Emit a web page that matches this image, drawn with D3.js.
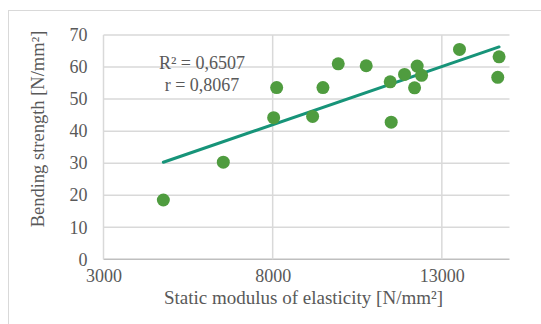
<!DOCTYPE html>
<html>
<head>
<meta charset="utf-8">
<script src="https://cdn.jsdelivr.net/npm/d3@7"></script>
<style>
  body { margin: 0; background: #fff; }
  text { font-family: "Liberation Serif", "Times New Roman", serif; fill: #595959; }
</style>
</head>
<body>
<div id="chart"></div>
<script>
// datos
const modulus = [4769, 6541, 8029, 8118, 9181, 9486, 9938, 10765, 11474, 11503, 11898, 12194, 12271, 12401, 13522, 14692, 14653];
const strength = [18.5, 30.3, 44.2, 53.6, 44.6, 53.6, 61.0, 60.4, 55.4, 42.8, 57.7, 53.5, 60.3, 57.4, 65.5, 63.2, 56.8];
const xTicks = [3000, 8000, 13000];
const yTicks = [0, 10, 20, 30, 40, 50, 60, 70];
const statLines = ["R² = 0,6507", "r = 0,8067"];

const width = 541, height = 324;
const margin = { top: 35, right: 31.5, bottom: 64.7, left: 103.5 };

const svg = d3.select("#chart").append("svg")
  .attr("width", width)
  .attr("height", height);

// marco exterior
svg.append("rect")
  .attr("x", 8.5).attr("y", 10.5)
  .attr("width", 540).attr("height", 320)
  .attr("fill", "none").attr("stroke", "#d9d9d9").attr("stroke-width", 1);

const x = d3.scaleLinear().domain([3000, 15000]).range([margin.left, width - margin.right]);
const y = d3.scaleLinear().domain([0, 70]).range([height - margin.bottom, margin.top]);

// rejilla
svg.append("g").selectAll("line.h")
  .data(yTicks).join("line")
  .attr("x1", x(3000)).attr("x2", x(15000))
  .attr("y1", d => y(d)).attr("y2", d => y(d))
  .attr("stroke", d => d === 0 ? "#bfbfbf" : "#d9d9d9").attr("stroke-width", 1.5);

svg.append("g").selectAll("line.v")
  .data(xTicks).join("line")
  .attr("x1", d => x(d)).attr("x2", d => x(d))
  .attr("y1", y(0)).attr("y2", y(70))
  .attr("stroke", "#d9d9d9").attr("stroke-width", 1.5);

// ejes
const xAxis = svg.append("g")
  .attr("transform", `translate(0,${y(0)})`)
  .call(d3.axisBottom(x).tickValues(xTicks).tickSize(0).tickPadding(10).tickFormat(d3.format("d")));
xAxis.select(".domain").remove();
xAxis.selectAll("text").style("font-size", "18px").attr("fill", "#595959")
  .style("font-family", "Liberation Serif");

const yAxis = svg.append("g")
  .attr("transform", `translate(${x(3000)},0)`)
  .call(d3.axisLeft(y).tickValues(yTicks).tickSize(0).tickPadding(16));
yAxis.select(".domain").remove();
yAxis.selectAll("text").style("font-size", "18px").attr("fill", "#595959")
  .style("font-family", "Liberation Serif");

// títulos de ejes
svg.append("text")
  .attr("x", 303.5).attr("y", 304)
  .attr("text-anchor", "middle")
  .style("font-size", "19px")
  .text("Static modulus of elasticity [N/mm²]");

svg.append("text")
  .attr("transform", "translate(44,129) rotate(-90)")
  .attr("text-anchor", "middle")
  .style("font-size", "18.5px")
  .text("Bending strength [N/mm²]");

// línea de tendencia (mínimos cuadrados)
const pts = modulus.map((m, i) => [m, strength[i]]);
const mx = d3.mean(modulus), my = d3.mean(strength);
const slope = d3.sum(pts, p => (p[0] - mx) * (p[1] - my)) / d3.sum(pts, p => (p[0] - mx) ** 2);
const icpt = my - slope * mx;
const [x0, x1] = d3.extent(modulus);
svg.append("line")
  .attr("x1", x(x0)).attr("y1", y(icpt + slope * x0))
  .attr("x2", x(x1)).attr("y2", y(icpt + slope * x1))
  .attr("stroke", "#179479").attr("stroke-width", 3).attr("stroke-linecap", "round");

// puntos
svg.append("g").selectAll("circle")
  .data(pts).join("circle")
  .attr("cx", d => x(d[0])).attr("cy", d => y(d[1]))
  .attr("r", 6.5)
  .attr("fill", "#4f9c3f");

// R² y r
svg.append("g").selectAll("text")
  .data(statLines).join("text")
  .attr("x", 202).attr("y", (d, i) => 69 + i * 22)
  .attr("text-anchor", "middle")
  .style("font-size", "18px")
  .text(d => d);
</script>
</body>
</html>
